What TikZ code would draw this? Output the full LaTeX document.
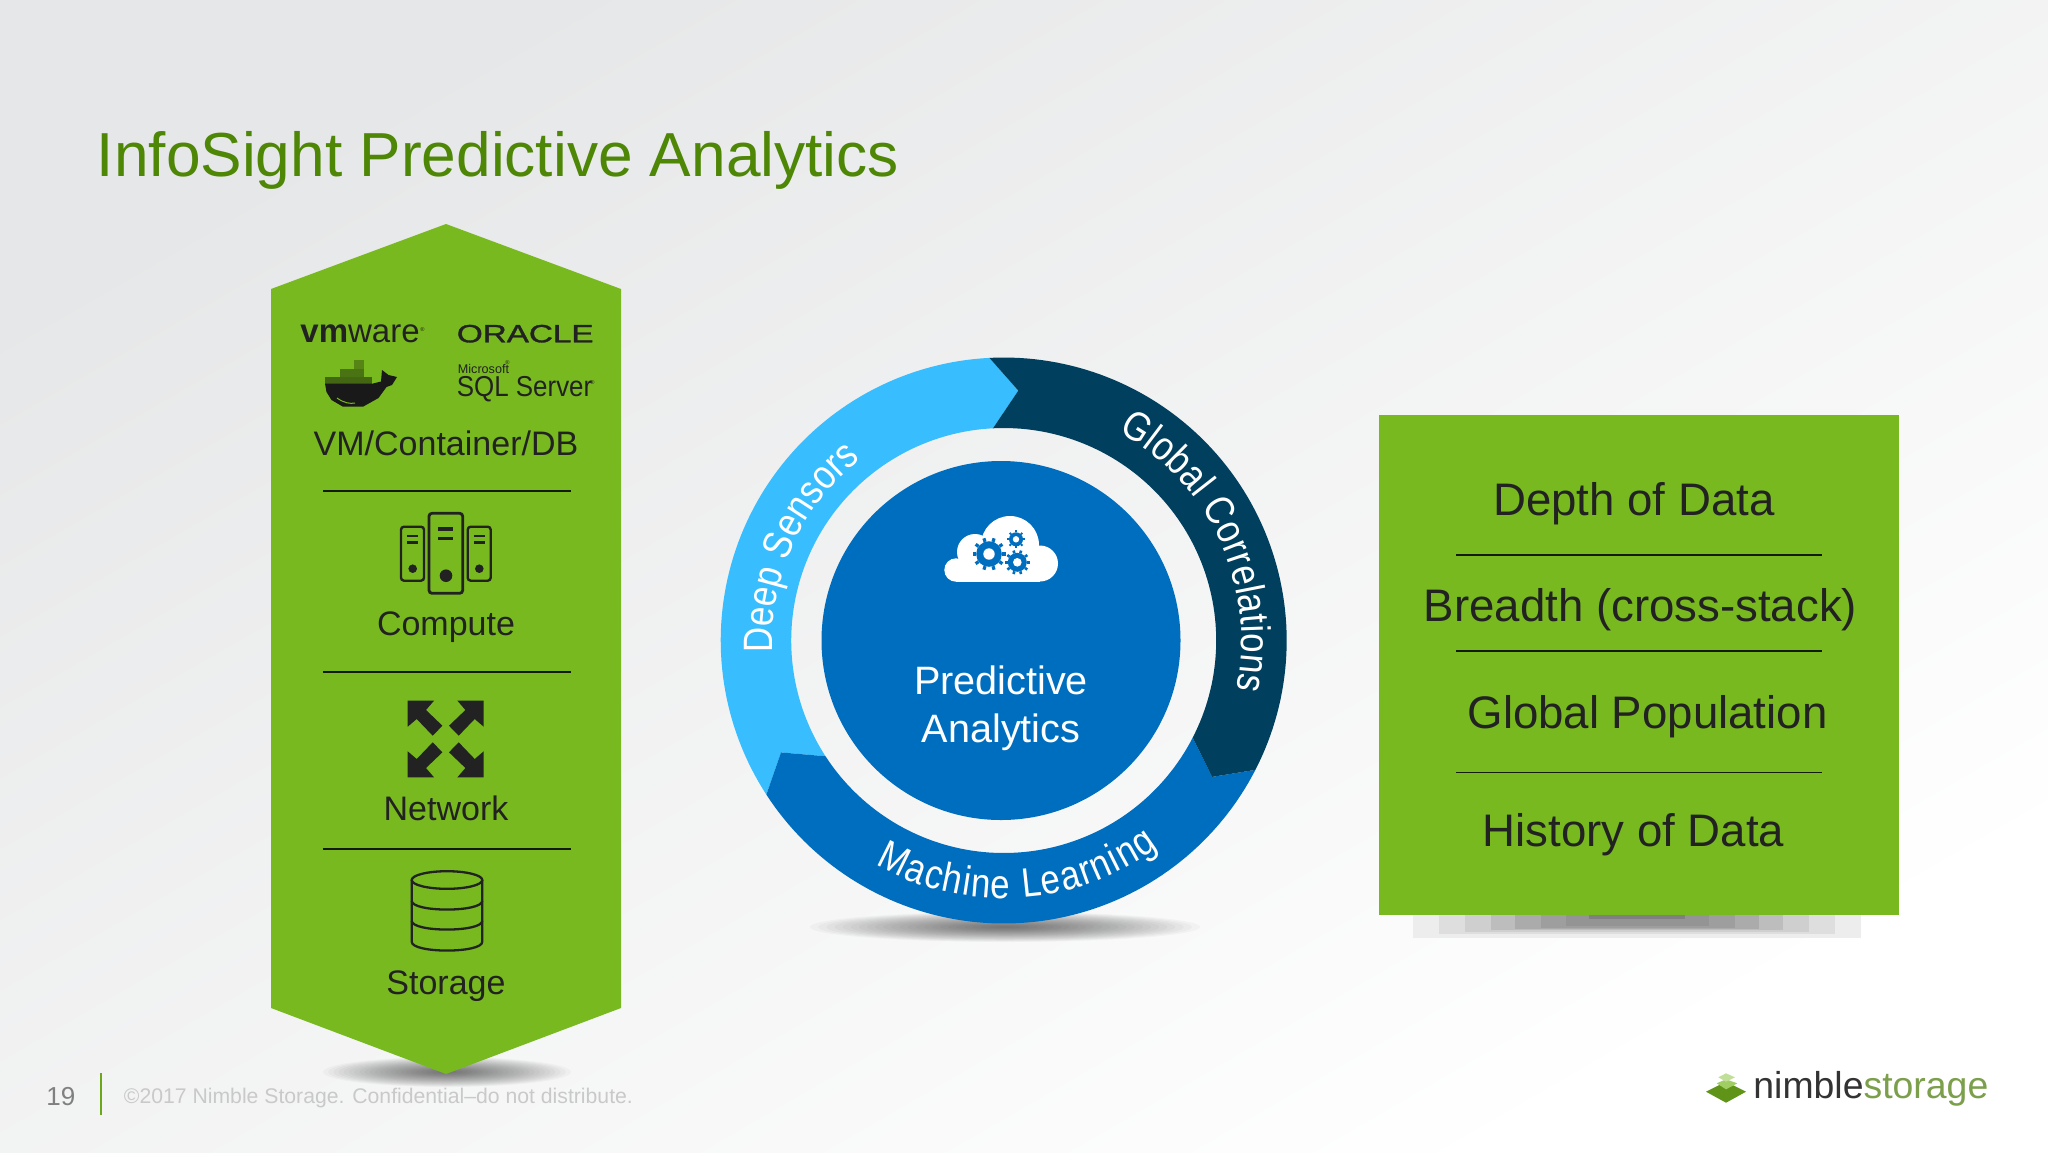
\documentclass[tikz,border=0pt]{standalone}
\usepackage{fontspec}
\setmainfont{Liberation Sans}
\newfontfamily\ringfam[FakeStretch=0.85]{Liberation Sans}
\newfontfamily\oraclefam[FakeBold=1.2]{Liberation Sans}
\usetikzlibrary{decorations.text}
\definecolor{bgA}{HTML}{E6E7E8}
\definecolor{bgB}{HTML}{F5F5F5}
\definecolor{nsgreen}{HTML}{78B91F}
\definecolor{titlegreen}{HTML}{4E8606}
\definecolor{inkdark}{HTML}{222222}
\definecolor{ringlight}{HTML}{38BDFF}
\definecolor{ringnavy}{HTML}{003F5E}
\definecolor{ringblue}{HTML}{006EBF}
\newcommand\fsz[1]{\fontsize{#1}{#1}\selectfont}
\newcommand\ringfont{\ringfam\fsz{20.5}}
% x, y, x radius, y radius: a soft elliptical shadow made of stacked ellipses
\newcommand\softshadow[4]{%
  \foreach \sk in {1,...,24}{%
    \pgfmathsetmacro\sf{1-(\sk-1)/24}%
    \fill[black,opacity=0.026] (#1,#2) ellipse [x radius=#3*\sf,y radius=#4*\sf];
  }%
}
% center x, center y, outer r, root r, hole r, tooth width(pt), teeth
\newcommand\cloudgear[7]{%
  \pgfmathsetmacro\gstep{360/#7}%
  \foreach \gi in {1,...,#7}{%
    \pgfmathsetmacro\ga{\gi*\gstep}%
    \draw[ringblue,line width=#6] ({#1+#4*cos(\ga)},{#2+#4*sin(\ga)}) -- ({#1+#3*cos(\ga)},{#2+#3*sin(\ga)});
  }%
  \fill[ringblue] (#1,#2) circle[radius=#4];
  \fill[white] (#1,#2) circle[radius=#5];
}
\tikzset{
  panel/.style={fill=nsgreen},
  divider/.style={draw=black!85!nsgreen,line width=0.6pt},
  hextext/.style={anchor=base,inner sep=0pt,text=inkdark,font=\fsz{17}},
  boxtext/.style={anchor=base,inner sep=0pt,text=inkdark,font=\fsz{22.8}},
  logotext/.style={anchor=base west,inner sep=0pt,text=inkdark},
  ringtext/.style={anchor=base,inner sep=0pt,text=white,font=\fsz{19.8}},
  iconline/.style={draw=inkdark,line width=1.2pt,rounded corners=1.5pt},
  iconbar/.style={draw=inkdark,line width=1.3pt}
}
\begin{document}
\begin{tikzpicture}[x=0.5pt,y=-0.5pt]
\useasboundingbox (0,0) rectangle (2048,1152);
% background
\shade[top color=bgA,middle color=bgB,bottom color=white,shading angle=30] (0,0) rectangle (2048,1152);

% title
\node[anchor=base west,inner sep=0pt,text=titlegreen,font=\fsz{31.1}] (title) at (96.5,176.5) {InfoSight Predictive Analytics};

% left hexagon
\softshadow{447}{1072}{124}{15}
\path[panel] (271,289) -- (446,224) -- (621,289) -- (621,1008) -- (446,1074) -- (271,1008) -- cycle;

\node[logotext,font=\fsz{16.5}] (vmware) at (300,342.3) {\textbf{vm}ware};
\node[logotext,font=\fsz{2.8}] (vmreg) at (420,331) {®};
\node[logotext,font=\oraclefam\fsz{12.5}] (oracle) at (456.5,342.3) {\scalebox{1.33}[1]{ORACLE}};
\node[logotext,font=\fsz{6.3}] (mssql) at (457.5,373.3) {Microsoft};
\node[logotext,font=\fsz{2.8}] (msreg) at (505,364) {®};
\node[logotext,font=\fsz{14.4}] (sql) at (456.5,396.7) {\scalebox{0.9}[1]{SQL Server}};
\node[logotext,font=\fsz{2.8}] (sqlreg) at (590,384) {®};

% docker whale
\fill[nsgreen!62!black] (340,369) rectangle (363.5,377);
\fill[nsgreen!72!black] (354.3,360) rectangle (364,369);
\fill[nsgreen!55!black] (325,377) rectangle (372,383.5);
\fill[black!90] (325,383.5) -- (373,383.5) -- (381,381.5) -- (382,370) -- (388.5,375) -- (397,377) -- (392,385) -- (386.5,387) -- (378.5,398) -- (363,406.7) -- (343,406.7) -- (331.5,400) -- (326.5,392) -- cycle;
\draw[nsgreen,line width=0.5pt] (337,398) .. controls (344,403) and (350,404) .. (355,403);

\node[hextext] (vmlabel) at (446,455) {VM/Container/DB};
\draw[divider] (323,491) -- (571,491);

% compute icon
\draw[iconline] (401,526.7) rectangle (424,580.7);
\draw[iconline] (467.7,526.7) rectangle (490.7,580.7);
\draw[iconline,line width=1.4pt] (429,513.3) rectangle (462.7,593.3);
\draw[iconbar] (407.3,536) -- (418,536) (407.3,542.7) -- (418,542.7);
\draw[iconbar] (474,536) -- (484.7,536) (474,542.7) -- (484.7,542.7);
\draw[iconbar,line width=1.6pt] (438.3,529) -- (453.3,529) (438.3,538.7) -- (453.3,538.7);
\fill[inkdark] (412.7,568.7) circle[radius=4.3];
\fill[inkdark] (479.3,568.7) circle[radius=4.3];
\fill[inkdark] (446,575.7) circle[radius=6.3];
\node[hextext] (compute) at (446,635) {Compute};
\draw[divider] (323,672) -- (571,672);

% network icon
\foreach \sx/\sy in {-1/-1,1/-1,-1/1,1/1}{
  \fill[inkdark] ({445.7+\sx*38},{739+\sy*38.3}) -- ({445.7+\sx*11.7},{739+\sy*38.3}) -- ({445.7+\sx*19.7},{739+\sy*29}) -- ({445.7+\sx*3.3},{739+\sy*13.3}) -- ({445.7+\sx*13},{739+\sy*3.3}) -- ({445.7+\sx*29},{739+\sy*20}) -- ({445.7+\sx*38},{739+\sy*12.3}) -- cycle;
}
\node[hextext] (network) at (446,820.7) {Network};
\draw[divider] (323,849) -- (571,849);

% storage icon
\draw[draw=inkdark,line width=1.15pt] (447,880) ellipse [x radius=35.3,y radius=8.8];
\draw[draw=inkdark,line width=1.15pt] (411.7,880) -- (411.7,941.7) .. controls (411.7,953.5) and (482.3,953.5) .. (482.3,941.7) -- (482.3,880);
\draw[draw=inkdark,line width=1.15pt] (411.7,900.7) .. controls (411.7,912.5) and (482.3,912.5) .. (482.3,900.7);
\draw[draw=inkdark,line width=1.15pt] (411.7,920.7) .. controls (411.7,932.5) and (482.3,932.5) .. (482.3,920.7);
\node[hextext] (storage) at (446,994.3) {Storage};

% ring
\softshadow{1005}{927}{195}{15}
\fill[ringlight] plot[domain=147:267.1,samples=80] ({1003.7+283*cos(\x)},{640.5+283*sin(\x)}) -- (1018.3,390.6) -- plot[domain=267.1:147,samples=80] ({1003.7+212.5*cos(\x)},{640.5+212.5*sin(\x)}) -- (781,752.4) -- cycle;
\fill[ringblue] plot[domain=27.2:147,samples=80] ({1003.7+283*cos(\x)},{640.5+283*sin(\x)}) -- (781,752.4) -- plot[domain=147:27.2,samples=80] ({1003.7+212.5*cos(\x)},{640.5+212.5*sin(\x)}) -- (1212,776.9) -- cycle;
\fill[ringnavy] plot[domain=-92.9:27.2,samples=80] ({1003.7+283*cos(\x)},{640.5+283*sin(\x)}) -- (1212,776.9) -- plot[domain=27.2:-92.9,samples=80] ({1003.7+212.5*cos(\x)},{640.5+212.5*sin(\x)}) -- (1018.3,390.6) -- cycle;
\fill[ringblue] (1001,640.5) circle[radius=179.5];

% ring texts
\path[decorate,decoration={text along path,text color=white,text align={fit to path},text={|\ringfont|Deep Sensors}}]
  plot[domain=0:1,samples=50] ({1003.7+231*cos(177+54.3*\x)},{640.5+231*sin(177+54.3*\x)});
\path[decorate,decoration={text along path,text color=white,text align={fit to path},text={|\ringfont|Global Correlations}}]
  plot[domain=0:1,samples=50] ({1003.7+238*cos(-61.2+73.2*\x)},{640.5+238*sin(-61.2+73.2*\x)});
\path[decorate,decoration={text along path,text color=white,text align={fit to path},text={|\ringfont|Machine Learning}}]
  plot[domain=0:1,samples=50] ({1003.7+258*cos(119.8-66.6*\x)},{640.5+258*sin(119.8-66.6*\x)});

% cloud
\fill[white] (956,570) circle[radius=11.7];
\fill[white] (975,552) circle[radius=18];
\fill[white] (1010,545) circle[radius=29];
\fill[white] (1040,563.5) circle[radius=18];
\fill[white] (956,560) rectangle (1040,581.5);
\cloudgear{989}{554}{16.5}{12.8}{5.7}{1.6pt}{10}
\cloudgear{1016}{539.3}{9}{7}{3.2}{1pt}{8}
\cloudgear{1017.3}{562.3}{12.3}{9.5}{4.3}{1.3pt}{10}
\node[ringtext] (pred) at (1001,694.5) {Predictive};
\node[ringtext] (anal) at (1001,742.5) {Analytics};

% right box
\fill[black!7] (1413,910) rectangle (1861,938);
\fill[black!13] (1439,910) rectangle (1835,934);
\fill[black!19] (1465,910) rectangle (1809,932);
\fill[black!26] (1490.5,910) rectangle (1783,930);
\fill[black!33] (1514.6,910) rectangle (1759,929);
\fill[black!38] (1541,910) rectangle (1735,928);
\fill[black!42] (1566,910) rectangle (1709,926);
\fill[black!50] (1589,910) rectangle (1685,919);
\path[panel] (1379,415) rectangle (1899,914.5);
\node[boxtext] (depth) at (1634,515) {Depth of Data};
\draw[divider] (1456,555) -- (1822,555);
\node[boxtext] (breadth) at (1640.5,621.5) {Breadth (cross-stack)};
\draw[divider] (1456,651) -- (1822,651);
\node[boxtext] (global) at (1647.5,728) {Global Population};
\draw[divider] (1456,772.5) -- (1822,772.5);
\node[boxtext] (history) at (1633.5,846.5) {History of Data};

% footer
\node[anchor=base west,inner sep=0pt,text=black!50,font=\fsz{13}] (pageno) at (46,1105.5) {19};
\draw[nsgreen!90!black,line width=1pt] (100.7,1073) -- (100.7,1115);
\node[anchor=base west,inner sep=0pt,text=black!21,font=\fsz{10.6}] (copy) at (123.5,1103) {©2017 Nimble Storage. Confidential–do not distribute.};

% nimble logo
\fill[nsgreen!80!black] (1706,1091.7) -- (1726,1081.7) -- (1746,1091.7) -- (1726,1102.7) -- cycle;
\fill[nsgreen!70!white] (1716.7,1083.3) -- (1726,1079.3) -- (1737.3,1083.3) -- (1726,1089.3) -- cycle;
\fill[nsgreen!45!white] (1718.3,1077.3) -- (1726,1073.3) -- (1735,1077.3) -- (1726,1081.7) -- cycle;
\node[anchor=base west,inner sep=0pt,font=\fsz{18.7}] (nimble) at (1753,1098) {\textcolor{black!80}{nimble}\textcolor{nsgreen!55!gray}{storage}};
\end{tikzpicture}
\end{document}
